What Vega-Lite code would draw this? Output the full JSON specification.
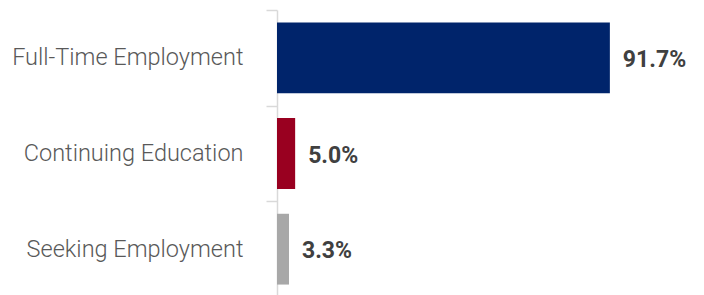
{
  "$schema": "https://vega.github.io/schema/vega-lite/v6.json",
  "autosize": {"type": "none"},
  "padding": {"left": 277, "top": 10, "right": 64, "bottom": 8},
  "width": 363,
  "height": 287,
  "background": "white",
  "config": {"view": {"stroke": null}},
  "data": {
    "values": [
      {"category": "Full-Time Employment", "value": 0.917},
      {"category": "Continuing Education", "value": 0.05},
      {"category": "Seeking Employment", "value": 0.033}
    ]
  },
  "encoding": {
    "y": {
      "field": "category",
      "type": "nominal",
      "sort": null,
      "scale": {"paddingInner": 0, "paddingOuter": 0},
      "axis": {
        "title": null,
        "domainColor": "#d9d9d9",
        "domainWidth": 1.5,
        "tickColor": "#d9d9d9",
        "tickWidth": 1.5,
        "tickSize": 11,
        "tickBand": "extent",
        "labelPadding": 23,
        "labelFont": "Roboto",
        "labelFontWeight": 300,
        "labelFontSize": 23.5,
        "labelColor": "#595959",
        "labelLimit": 400
      }
    },
    "x": {
      "field": "value",
      "type": "quantitative",
      "scale": {"domain": [0, 1]},
      "axis": null
    }
  },
  "layer": [
    {
      "mark": {"type": "bar", "height": {"band": 0.74}},
      "encoding": {
        "color": {
          "field": "category",
          "type": "nominal",
          "scale": {
            "domain": ["Full-Time Employment", "Continuing Education", "Seeking Employment"],
            "range": ["#00246B", "#990020", "#A8A8A8"]
          },
          "legend": null
        }
      }
    },
    {
      "mark": {
        "type": "text",
        "align": "left",
        "baseline": "middle",
        "dx": 13,
        "dy": 2,
        "font": "Roboto",
        "fontWeight": "bold",
        "fontSize": 23,
        "color": "#404040"
      },
      "encoding": {
        "text": {"field": "value", "type": "quantitative", "format": ".1%"}
      }
    }
  ]
}
